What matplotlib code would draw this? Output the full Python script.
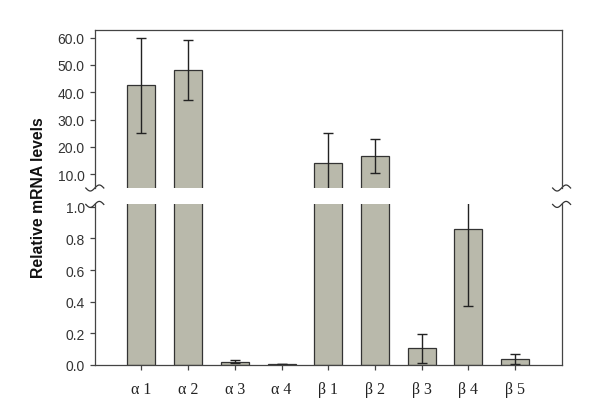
import matplotlib
matplotlib.use('Agg')
import matplotlib.pyplot as plt
import numpy as np

# data
labels = ['α 1', 'α 2', 'α 3', 'α 4', 'β 1', 'β 2', 'β 3', 'β 4', 'β 5']
values = [42.5, 48.2, 0.020, 0.005, 14.2, 16.7, 0.105, 0.86, 0.035]
errors = [17.5, 11.0, 0.008, 0.002, 10.8, 6.3, 0.092, 0.49, 0.030]

upper_ticks = [10, 20, 30, 40, 50, 60]
lower_ticks = [0.0, 0.2, 0.4, 0.6, 0.8, 1.0]

bar_color = '#b9b9ab'
edge = '#333333'

plt.rcParams['font.family'] = ['Liberation Sans', 'DejaVu Sans']

fig = plt.figure(figsize=(6, 4.1), dpi=100)
ax_up = fig.add_axes([0.158, 0.539, 0.778, 0.386])
ax_lo = fig.add_axes([0.158, 0.108, 0.778, 0.391])

x = np.arange(len(labels))
for ax in (ax_up, ax_lo):
    ax.bar(x, values, width=0.6, color=bar_color, edgecolor=edge, linewidth=0.9,
           yerr=errors, capsize=3.6, error_kw=dict(elinewidth=1.0, capthick=1.0, ecolor='#222222'))
    ax.set_xlim(-1, len(labels))
    for s in ax.spines.values():
        s.set_color('#444444')
        s.set_linewidth(0.9)
    ax.tick_params(direction='out', length=3.8, width=0.9, color='#444444',
                   labelsize=10, labelcolor='#333333')

ax_up.set_ylim(4.9, 62.9)
ax_up.set_yticks(upper_ticks)
ax_up.set_yticklabels(['%.1f' % t for t in upper_ticks])
ax_up.spines['bottom'].set_visible(False)
ax_up.set_xticks([])

ax_lo.set_ylim(0, 1.016)
ax_lo.set_yticks(lower_ticks)
ax_lo.set_yticklabels(['%.1f' % t for t in lower_ticks])
ax_lo.spines['top'].set_visible(False)
ax_lo.set_xticks(x)
ax_lo.set_xticklabels(labels, family=['Liberation Serif', 'DejaVu Serif'], fontsize=11.5, color='#222222')
ax_lo.tick_params(axis='x', pad=8)

# break marks on both spines
t = np.linspace(-0.5, 0.5, 40)
for ax, yb in ((ax_up, 0.0), (ax_lo, 1.0)):
    h = ax.get_position().height * 410
    for xb in (0.0, 1.0):
        xs = xb + t * 18 / 467
        ys = yb + np.sin(2 * np.pi * t) * 3 / h
        ax.plot(xs, ys, transform=ax.transAxes, color='#333333', lw=0.9, clip_on=False)

fig.text(0.065, 0.517, 'Relative mRNA levels', rotation=90, ha='center', va='center',
         fontsize=11.3, fontweight='bold', color='#111111')

fig.savefig('out.png', dpi=100)
